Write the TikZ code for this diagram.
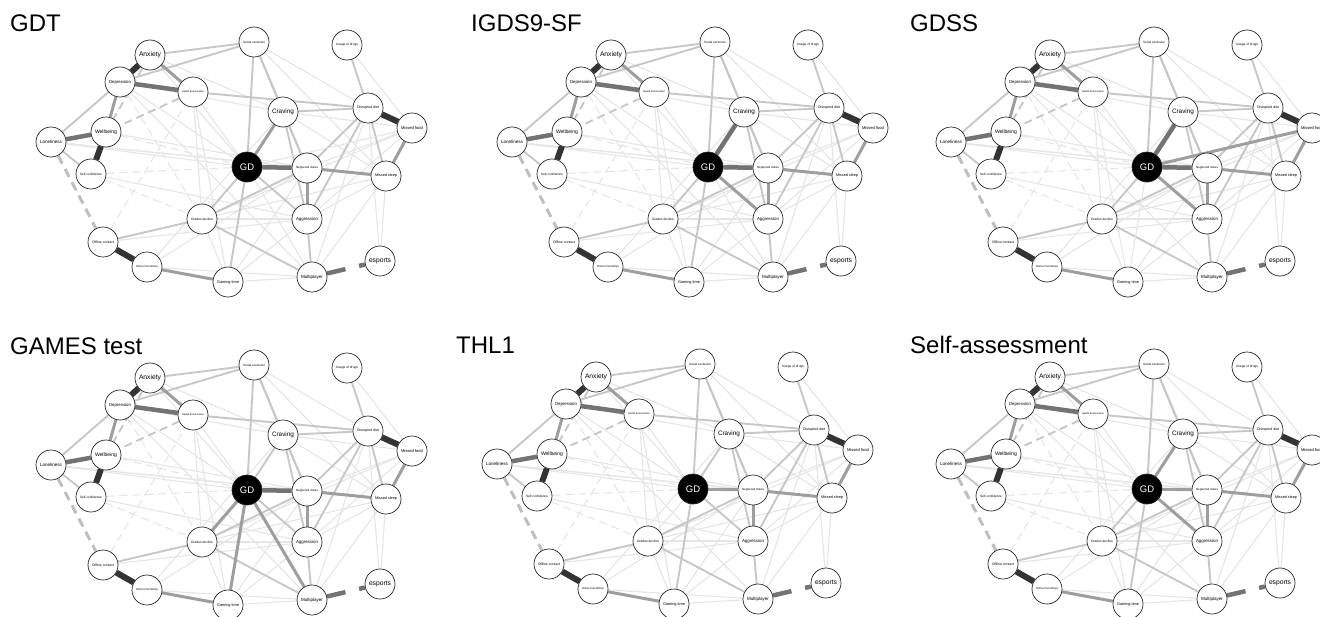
\documentclass[tikz,border=0pt]{standalone}
\usepackage{graphicx}
\usepackage{fontspec}
\setmainfont{Liberation Sans}
\usetikzlibrary{backgrounds}

\newcommand{\vlab}[1]{\resizebox{22pt}{!}{#1}}

\tikzset{
  vnode/.style={circle, draw=black!85, line width=0.7pt, fill=white,
    minimum size=30pt, inner sep=0pt},
  gdnode/.style={vnode, fill=black, text=white, font=\fontsize{9.5}{10}\selectfont},
  ptitle/.style={anchor=west, inner sep=0pt, font=\fontsize{24}{26}\selectfont},
  ew1/.style={line width=1.1pt, draw=black!10},
  ew2/.style={line width=1.9pt, draw=black!22},
  ew3/.style={line width=3pt, draw=black!38},
  ew4/.style={line width=4.5pt, draw=black!55},
  ew5/.style={line width=6pt, draw=black!80},
  nw1/.style={ew1, dash pattern=on 8pt off 5pt},
  nw2/.style={ew2, dash pattern=on 8pt off 5pt},
  nw3/.style={ew3, draw=black!25, dash pattern=on 9pt off 6pt},
  gapstub/.style={ew4, dash pattern=on 19pt off 14pt on 6pt off 60pt},
}

\begin{document}
\begin{tikzpicture}[x=1pt, y=-1pt]
  \useasboundingbox (0,0) rectangle (1320,616);
  \clip (0,0) rectangle (1320,616);

  % one network per instrument, same layout, GD edges differ
  \foreach \dx/\dy/\ptxt/\gdlist in {
      0/0/GDT/{neg/ew4,cra/ew3,gra/ew2,gam/ew2,agg/ew2,mul/ew1,foo/ew1},
      461/0/IGDS9-SF/{neg/ew4,cra/ew4,agg/ew3,gra/ew2,gam/ew2,mul/ew1},
      900/0/GDSS/{neg/ew4,cra/ew4,agg/ew3,foo/ew3,gra/ew2,gam/ew1},
      0/323/GAMES test/{neg/ew4,gam/ew3,mul/ew3,gra/ew3,cra/ew2,agg/ew2},
      446/322/THL1/{neg/ew3,cra/ew2,agg/ew2,gam/ew2,gra/ew1},
      900/322/Self-assessment/{neg/ew3,cra/ew3,agg/ew3,gra/ew2,gam/ew2}} {
  \begin{scope}[shift={(\dx,\dy)}]
    \node[ptitle] (title) at (10,23) {\ptxt};

    \node[vnode] (anx) at (150,55) {\vlab{Anxiety}};
    \node[vnode] (dep) at (120,82) {\vlab{Depression}};
    \node[vnode] (hea) at (193,92) {\vlab{Health deterioration}};
    \node[vnode] (wel) at (106,132) {\vlab{Wellbeing}};
    \node[vnode] (lon) at (51,142) {\vlab{Loneliness}};
    \node[vnode] (sel) at (91,174) {\vlab{Self-confidence}};
    \node[vnode] (off) at (103,242) {\vlab{Offline contact}};
    \node[vnode] (onl) at (147,267) {\vlab{Online friendships}};
    \node[vnode] (gra) at (202,219) {\vlab{Grades decline}};
    \node[vnode] (soc) at (254,42) {\vlab{Social exclusion}};
    \node[vnode] (usa) at (347,45) {\vlab{Usage of drugs}};
    \node[vnode] (cra) at (283,112) {\vlab{Craving}};
    \node[vnode] (dis) at (368,108) {\vlab{Disrupted diet}};
    \node[vnode] (foo) at (412,128) {\vlab{Missed food}};
    \node[vnode] (sle) at (386,176) {\vlab{Missed sleep}};
    \node[gdnode] (gd) at (247,167) {GD};
    \node[vnode] (neg) at (307,168) {\vlab{Neglected duties}};
    \node[vnode] (agg) at (307,219) {\vlab{Aggression}};
    \node[vnode] (gam) at (228,282) {\vlab{Gaming time}};
    \node[vnode] (mul) at (312,277) {\vlab{Multiplayer}};
    \node[vnode] (esp) at (380,261) {\vlab{esports}};

    \begin{pgfonlayer}{background}
      % light edges first
      \foreach \a/\b/\s in {anx/gd/ew1, dep/gd/ew1, hea/gra/ew1, hea/gam/ew1,
          hea/gd/ew1, soc/dis/ew1, dep/cra/ew1, onl/mul/ew1, off/agg/ew1,
          onl/neg/ew1, wel/neg/ew1, lon/neg/ew1, lon/sle/ew1, gam/agg/ew1,
          gam/neg/ew1, gra/gam/ew1, esp/sle/ew1, esp/dis/ew1, mul/dis/ew1,
          onl/cra/ew1, off/sle/ew1, sel/agg/ew1, anx/cra/ew1, gra/foo/ew1,
          dep/mul/ew1, usa/foo/ew1, sle/mul/ew1, gam/mul/ew1, gra/agg/ew1,
          soc/sle/ew1, cra/foo/ew1, cra/sle/ew1, neg/foo/ew1, agg/foo/ew1,
          agg/sle/ew1, lon/gd/ew1,
          wel/gd/nw1, sel/gra/nw1, sel/gd/nw1, dep/gra/nw1, off/hea/nw1}
        \draw[\s] (\a) -- (\b);
      \foreach \a/\b/\s in {lon/dep/ew2, usa/dis/ew2, hea/dis/ew2, cra/dis/ew2,
          dis/sle/ew2, soc/gd/ew2, soc/cra/ew2, anx/soc/ew2, dep/soc/ew2,
          gra/off/ew2, cra/agg/ew2, cra/neg/ew2, agg/mul/ew2, gra/mul/ew2,
          gra/neg/ew2, neg/dis/ew2, soc/neg/ew2, agg/dis/ew2, lon/sel/ew2,
          anx/wel/nw2, hea/wel/nw2, lon/off/nw3,
          dep/wel/ew3, neg/sle/ew3, foo/sle/ew3, onl/gam/ew3, neg/agg/ew3,
          anx/hea/ew3, dep/hea/ew4, lon/wel/ew4,
          anx/dep/ew5, wel/sel/ew5, dis/foo/ew5, off/onl/ew5}
        \draw[\s] (\a) -- (\b);
      \foreach \b/\s in \gdlist
        \draw[\s] (gd) -- (\b);
      \draw[gapstub] (mul) -- (esp);
    \end{pgfonlayer}
  \end{scope}
  }
\end{tikzpicture}
\end{document}
